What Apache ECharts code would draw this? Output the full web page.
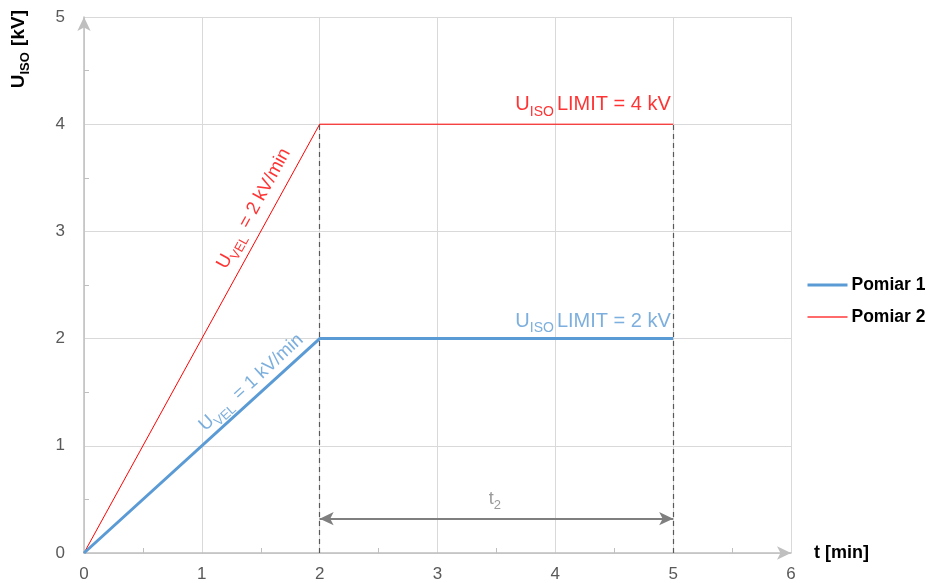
<!DOCTYPE html>
<html>
<head>
<meta charset="utf-8">
<script src="https://cdn.jsdelivr.net/npm/echarts@6/dist/echarts.min.js"></script>
<style>
  html, body { margin: 0; padding: 0; background: #fff; }
  #chart { width: 932px; height: 583px; }
</style>
</head>
<body>
<div id="chart"></div>
<script>
// czas [min] i napiecie [kV]
const timeMin = [0, 2, 5];
const pomiar1 = [0, 2, 2];
const pomiar2 = [0, 4, 4];
// koniec narastania / koniec proby
const markTimes = [2, 5];
const markTop = 4;
// strzalka t2
const t2Span = [2, 5];
const t2Level = 0.32;
// napisy: [x, y]
const velRedAt = [1.43, 3.22];
const velBlueAt = [1.41, 1.6];
const limitRedAt = [4.98, 4.19];
const limitBlueAt = [4.98, 2.17];
const t2LabelAt = [3.5, 0.52];

const RED = "#ff0000";
const BLUE = "#5b9bd5";
const FONT = "'Liberation Sans', Arial, sans-serif";

function pts(xs, ys) {
  return xs.map((x, i) => [x, ys[i]]);
}

function richFor(color, size) {
  return {
    u: { color: color, fontSize: size, fontFamily: FONT, lineHeight: 22, verticalAlign: "bottom" },
    s: { color: color, fontSize: Math.round(size * 0.7), fontFamily: FONT, lineHeight: 14, verticalAlign: "bottom", padding: [0, 3, -4, 0] },
    t: { color: color, fontSize: size, fontFamily: FONT, lineHeight: 22, verticalAlign: "bottom" },
  };
}

// pojedynczy napis na wspolrzednych danych
function textSeries(at, text, color, size, rotate, align) {
  return {
    type: "scatter",
    symbolSize: 0,
    silent: true,
    z: 5,
    data: [at],
    label: {
      show: true,
      position: "inside",
      formatter: text,
      rotate: rotate || 0,
      align: align || "center",
      verticalAlign: "middle",
      rich: richFor(color, size),
    },
  };
}

const chart = echarts.init(document.getElementById("chart"));

const option = {
  animation: false,
  textStyle: { fontFamily: FONT },
  grid: { left: 84, right: 141, top: 17, bottom: 29, containLabel: false },
  legend: {
    orient: "vertical",
    left: 801,
    top: 270,
    itemWidth: 40,
    itemHeight: 14,
    itemGap: 12,
    data: [
      { name: "Pomiar 1", lineStyle: { width: 3, color: BLUE } },
      { name: "Pomiar 2", lineStyle: { width: 2, color: "#ff6b6b" } },
    ],
    itemStyle: { opacity: 0 },
    textStyle: { color: "#000", fontSize: 17.5, fontWeight: "bold", fontFamily: FONT, lineHeight: 20, padding: [0, 0, 0, -1] },
  },
  xAxis: {
    type: "value",
    min: 0,
    max: 6,
    interval: 1,
    name: "t [min]",
    nameLocation: "end",
    nameGap: 23,
    nameTextStyle: { color: "#000", fontSize: 18, fontWeight: "bold", verticalAlign: "middle" },
    axisLine: { show: true, lineStyle: { color: "#bfbfbf", width: 1.5 }, symbol: ["none", "arrow"], symbolSize: [10, 14] },
    axisTick: { show: false, inside: true },
    minorTick: { show: true, splitNumber: 2, length: 5, lineStyle: { color: "#bfbfbf" } },
    axisLabel: { color: "#595959", fontSize: 17, margin: 13 },
    splitLine: { show: true, lineStyle: { color: "#d9d9d9", width: 1 } },
  },
  yAxis: {
    type: "value",
    min: 0,
    max: 5,
    interval: 1,
    axisLine: { show: true, lineStyle: { color: "#bfbfbf", width: 1.5 }, symbol: ["none", "arrow"], symbolSize: [10, 14] },
    axisTick: { show: false, inside: true },
    minorTick: { show: true, splitNumber: 2, length: 5, lineStyle: { color: "#bfbfbf" } },
    axisLabel: { color: "#595959", fontSize: 17, margin: 19 },
    splitLine: { show: true, lineStyle: { color: "#d9d9d9", width: 1 } },
  },
  graphic: [
    {
      type: "text",
      left: 9,
      top: 10,
      rotation: Math.PI / 2,
      style: {
        text: "{u|U}{s|ISO}{t| [kV]}",
        rich: {
          u: { fontSize: 19, fontWeight: "bold", fill: "#000", fontFamily: FONT, verticalAlign: "bottom", lineHeight: 22 },
          s: { fontSize: 13, fontWeight: "bold", fill: "#000", fontFamily: FONT, verticalAlign: "bottom", lineHeight: 15, padding: [0, 1, -4, 0] },
          t: { fontSize: 19, fontWeight: "bold", fill: "#000", fontFamily: FONT, verticalAlign: "bottom", lineHeight: 22 },
        },
      },
    },
  ],
  series: [
    {
      name: "Pomiar 2",
      type: "line",
      symbol: "none",
      z: 3,
      data: pts(timeMin, pomiar2),
      lineStyle: { color: RED, width: 1 },
      itemStyle: { color: RED },
    },
    {
      name: "Pomiar 1",
      type: "line",
      symbol: "none",
      z: 4,
      data: pts(timeMin, pomiar1),
      lineStyle: { color: BLUE, width: 3 },
      itemStyle: { color: BLUE },
      markLine: {
        silent: true,
        symbol: ["none", "none"],
        label: { show: false },
        lineStyle: { color: "#595959", type: [5, 4], width: 1.2 },
        data: markTimes.map((t) => [{ coord: [t, 0] }, { coord: [t, markTop] }]),
      },
    },
    {
      type: "line",
      symbol: "none",
      data: [],
      markLine: {
        silent: true,
        symbol: ["arrow", "arrow"],
        symbolSize: [10, 14],
        label: { show: false },
        lineStyle: { color: "#7f7f7f", type: "solid", width: 2 },
        data: [[{ coord: [t2Span[0], t2Level] }, { coord: [t2Span[1], t2Level] }]],
      },
    },
    textSeries(velRedAt, "{u|U}{s|VEL}{t| = 2 kV/min}", RED, 18.5, 61.3),
    textSeries(velBlueAt, "{u|U}{s|VEL}{t| = 1 kV/min}", BLUE, 18.5, 42.5),
    textSeries(limitRedAt, "{u|U}{s|ISO}{t|LIMIT = 4 kV}", RED, 20, 0, "right"),
    textSeries(limitBlueAt, "{u|U}{s|ISO}{t|LIMIT = 2 kV}", BLUE, 20, 0, "right"),
    textSeries(t2LabelAt, "{t|t}{s|2}", "#7f7f7f", 18, 0),
  ],
};

chart.setOption(option);
</script>
</body>
</html>
